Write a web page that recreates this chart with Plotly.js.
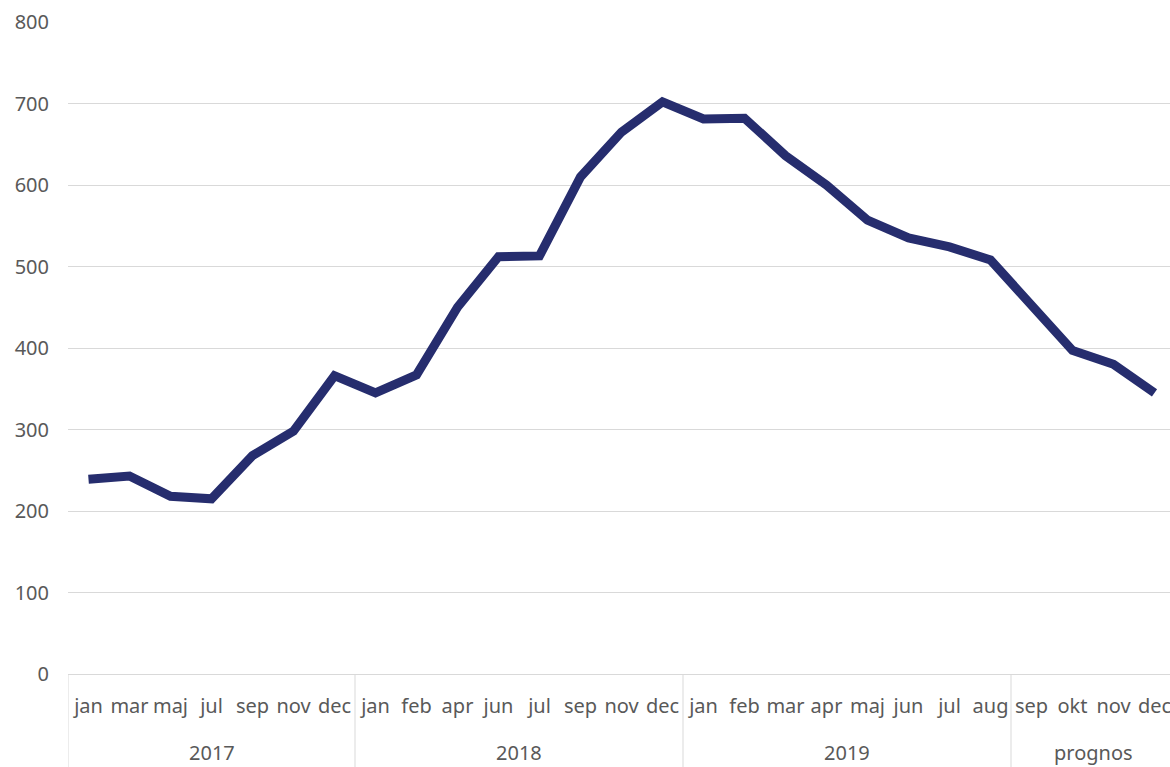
<!DOCTYPE html>
<html>
<head>
<meta charset="utf-8">
<script src="https://cdn.plot.ly/plotly-3.0.1.min.js"></script>
<style>
html,body{margin:0;padding:0;overflow:hidden;background:#fff;}
#chart{width:1175px;height:767px;}
</style>
</head>
<body>
<div id="chart"></div>
<script>
var groups = ["2017","2017","2017","2017","2017","2017","2017",
  "2018","2018","2018","2018","2018","2018","2018","2018",
  "2019","2019","2019","2019","2019","2019","2019","2019",
  "prognos","prognos","prognos","prognos"];
var months = ["jan","mar","maj","jul","sep","nov","dec",
  "jan","feb","apr","jun","jul","sep","nov","dec",
  "jan","feb","mar","apr","maj","jun","jul","aug",
  "sep","okt","nov","dec"];
var values = [239,243,218,215,268,298,366,
  345,367,450,512,513,610,665,702,
  681,682,636,600,557,535,524,508,
  452,397,380,345];

var idx = months.map(function(m, i){ return i; });

var trace = {
  x: idx,
  y: values,
  type: "scatter",
  mode: "lines",
  line: {color: "#262d6e", width: 9},
  hoverinfo: "y"
};

// group spans -> year labels and dividers
var spans = [];
groups.forEach(function(g, i){
  if (!spans.length || spans[spans.length-1].name !== g) spans.push({name: g, start: i, end: i});
  else spans[spans.length-1].end = i;
});

var plotH = 767 - 22 - 93;
var annotations = spans.map(function(s){
  return {
    x: (s.start + s.end) / 2, xref: "x",
    y: -(752 - 674) / plotH, yref: "paper",
    text: s.name, showarrow: false,
    xanchor: "center", yanchor: "middle",
    font: {size: 20, color: "#595959"}
  };
});
var bounds = [spans[0].start - 0.5].concat(spans.map(function(s){ return s.end + 0.5; }));
var shapes = bounds.map(function(b){
  return {
    type: "line", xref: "x", yref: "paper",
    x0: b, x1: b, y0: 0, y1: -93 / plotH,
    line: {color: "#d9d9d9", width: 1}
  };
});

var layout = {
  width: 1175,
  height: 767,
  margin: {l: 68, r: 0, t: 22, b: 93},
  paper_bgcolor: "#ffffff",
  plot_bgcolor: "#ffffff",
  showlegend: false,
  font: {family: "Noto Sans, Open Sans, sans-serif", color: "#595959", size: 20},
  xaxis: {
    range: [-0.5, months.length - 0.5],
    tickmode: "array",
    tickvals: idx,
    ticktext: months,
    showline: true,
    linecolor: "#d9d9d9",
    linewidth: 1,
    showgrid: false,
    zeroline: false,
    ticks: "",
    tickangle: 0,
    ticklabelstandoff: 14,
    tickfont: {size: 20, color: "#595959"}
  },
  yaxis: {
    range: [0, 800],
    dtick: 100,
    showgrid: true,
    gridcolor: "#d9d9d9",
    gridwidth: 1,
    zeroline: false,
    showline: false,
    ticks: "",
    ticklabelstandoff: 18,
    tickfont: {size: 20, color: "#595959"}
  },
  annotations: annotations,
  shapes: shapes
};

Plotly.newPlot("chart", [trace], layout, {displayModeBar: false, staticPlot: true});
</script>
</body>
</html>
